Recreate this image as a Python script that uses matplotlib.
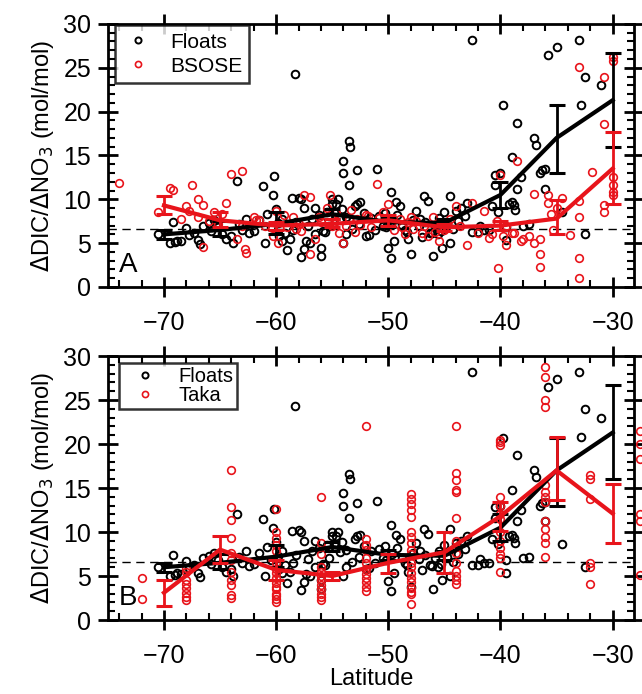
import matplotlib.pyplot as plt
from matplotlib.ticker import MultipleLocator

plt.rcParams['font.family'] = ['Liberation Sans', 'DejaVu Sans']

# Float observations (latitude, ratio)
float_lat = [-70.5, -69.5, -69.0, -68.5, -69.2, -68.0, -67.8, -67.0, -66.8, -66.5, -66.0, -65.5,
             -64.5, -64.0, -63.8, -63.0, -62.7, -63.5, -62.0, -64.8, -65.2, -63.3,
             -61.2, -60.2, -60.3, -60.8, -61.0, -60.0, -59.5, -59.0, -58.8, -59.5, -58.6, -58.0,
             -57.8, -58.3, -57.8, -57.5, -57.0, -57.5, -56.5, -56.5, -56.0, -56.0, -55.5, -55.0,
             -55.0, -54.7, -54.5, -54.0, -54.0, -53.5, -53.4, -53.5, -53.0, -52.8, -52.5, -52.8,
             -52.0, -54.0, -53.8, -51.0, -50.0, -49.8, -49.5, -49.8, -49.3, -49.0, -48.5, -48.0,
             -47.5, -47.0, -46.8, -46.5, -46.0, -45.5, -45.2, -45.0, -44.5, -44.5, -44.0, -43.5,
             -43.0, -42.5, -42.5, -41.5, -41.0, -40.5, -40.5, -40.0, -39.8, -39.5, -39.5, -39.0,
             -39.0, -38.8, -38.5, -38.5, -38.2, -38.0, -37.5, -37.0, -36.8, -36.5, -36.3, -36.0,
             -35.8, -35.0, -33.0, -32.8, -32.5, -32.5, -31.0, -34.5, -36.0,
             -61.5, -60.5, -59.8, -59.2, -58.5, -58.2, -57.2, -56.8, -56.2, -55.8, -55.3, -54.8,
             -54.3, -53.8, -53.2, -52.6, -52.2, -51.5, -51.2, -50.8, -50.5, -50.2, -49.7, -49.2,
             -48.8, -48.3, -47.8, -47.3, -46.7, -46.3, -45.8, -45.3, -44.8, -44.2, -43.8, -43.2,
             -42.0, -41.8, -40.8, -40.2, -39.2, -38.7, -59.7, -57.3, -55.6, -54.1, -51.7, -50.3,
             -48.2, -47.2, -46.1, -45.6, -62.4, -65.8, -67.3, -68.8]
float_val = [6.0, 5.0, 5.1, 5.2, 7.4, 6.7, 5.9, 5.4, 4.9, 7.0, 7.3, 7.6,
             5.5, 5.8, 5.0, 6.5, 7.8, 12.1, 6.4, 6.0, 6.8, 7.2,
             11.5, 12.6, 10.5, 8.3, 5.0, 8.9, 7.8, 4.2, 5.5, 5.3, 10.1, 10.2,
             10.0, 24.3, 3.4, 4.3, 5.0, 9.0, 9.0, 6.0, 3.5, 4.5, 8.5, 9.5,
             10.0, 9.5, 10.0, 14.4, 13.0, 16.6, 16.0, 11.6, 9.2, 13.3, 9.7, 9.5,
             5.8, 5.0, 6.0, 13.5, 4.4, 10.8, 5.3, 3.3, 9.7, 9.2, 6.5, 3.8,
             8.7, 5.7, 10.4, 9.8, 3.5, 7.9, 4.5, 8.5, 10.4, 5.0, 8.7, 9.0,
             9.6, 28.2, 6.3, 6.5, 6.5, 11.6, 12.8, 13.0, 20.7, 6.8, 5.4, 14.8,
             9.7, 9.3, 11.2, 18.7, 12.5, 7.0, 7.2, 17.0, 16.2, 13.0, 13.3, 11.2,
             26.5, 27.4, 28.2, 20.8, 24.0, 6.0, 23.0, 8.6, 13.4,
             7.6, 6.8, 7.3, 6.2, 6.5, 7.4, 6.9, 7.8, 8.2, 6.4, 7.0, 8.6,
             7.7, 8.0, 6.6, 7.2, 8.4, 7.9, 6.5, 8.1, 7.0, 6.8, 7.5, 8.2,
             7.1, 6.3, 7.6, 6.9, 7.4, 6.2, 7.0, 6.4, 7.2, 6.6, 7.5, 8.1,
             6.3, 6.9, 9.2, 8.6, 9.5, 8.8, 5.8, 5.2, 6.3, 8.9, 5.9, 8.4,
             5.5, 7.8, 6.1, 6.0, 6.1, 6.4, 6.2, 5.3]

# BSOSE model (panel A)
bsose_lat = [-74.0, -70.5, -69.5, -69.2, -68.5, -68.0, -67.8, -67.5, -67.0, -67.0, -66.5, -66.5,
             -66.0, -65.5, -64.5, -64.0, -63.5, -63.0, -62.8, -62.7, -63.0, -62.0, -61.0, -60.0,
             -60.3, -59.8, -59.0, -58.5, -58.0, -57.5, -57.0, -57.0, -56.5, -55.5, -55.2, -54.7,
             -54.0, -53.5, -53.0, -52.0, -51.0, -50.5, -50.0, -49.5, -49.0, -48.5, -48.0, -47.5,
             -47.0, -46.5, -46.0, -45.5, -45.0, -44.5, -44.0, -43.0, -42.5, -41.5, -41.0, -40.3,
             -40.2, -40.0, -39.5, -39.5, -39.0, -38.5, -38.2, -38.0, -37.5, -37.0, -37.0, -36.5,
             -36.5, -36.5, -35.8, -35.5, -35.8, -35.0, -35.3, -34.5, -33.8, -33.0, -33.0, -33.0,
             -33.0, -33.0, -31.8, -30.8, -30.8, -30.8, -30.8, -30.0, -30.0, -30.0, -30.0, -30.0,
             -30.0, -61.5, -59.3, -58.2, -56.0, -55.0, -54.4, -53.3, -52.5, -51.5, -50.8, -49.8,
             -48.8, -48.2, -47.8, -46.8, -45.8, -44.8, -43.6, -42.0, -40.8, -39.8, -38.8, -64.8,
             -65.2, -61.8, -57.8, -56.2, -54.8, -53.8, -52.8, -51.8]
bsose_val = [11.9, 8.6, 11.3, 11.1, 7.8, 9.2, 8.7, 11.6, 10.0, 8.0, 9.4, 4.6,
             7.5, 8.6, 9.6, 12.9, 5.5, 13.2, 4.3, 3.9, 7.0, 8.0, 7.0, 8.7,
             5.8, 5.0, 6.8, 8.0, 7.2, 10.5, 10.3, 3.8, 5.5, 9.0, 10.5, 8.4,
             5.0, 7.8, 6.3, 8.2, 11.8, 8.6, 9.5, 6.5, 7.8, 6.0, 8.0, 7.5,
             6.2, 5.8, 8.0, 5.2, 6.5, 7.8, 9.2, 4.8, 9.6, 8.7, 5.6, 7.5,
             2.2, 12.8, 4.8, 7.0, 6.2, 14.4, 5.2, 5.5, 5.8, 5.0, 10.6, 3.8,
             2.3, 5.5, 9.6, 8.3, 10.5, 9.0, 6.5, 10.2, 5.9, 25.1, 9.8, 8.0,
             3.3, 1.0, 13.1, 24.0, 18.6, 9.3, 8.5, 25.8, 26.2, 12.5, 11.6, 10.8,
             10.5, 7.6, 8.2, 6.6, 7.4, 7.0, 6.2, 8.8, 7.1, 6.8, 7.9, 7.2,
             6.8, 7.4, 6.6, 7.0, 6.3, 7.2, 6.9, 6.2, 6.0, 5.8, 6.1, 8.3,
             7.2, 7.6, 6.4, 8.0, 7.3, 6.9, 7.7, 8.1]

# Takahashi climatology (panel B)
taka_lat = ([-72.0] * 2 + [-68.0] * 8 + [-64.0] * 11 + [-60.0] * 17 + [-56.0] * 12 + [-52.0] * 12
            + [-48.0] * 19 + [-44.0] * 14 + [-40.0] * 13 + [-36.0] * 13 + [-32.0] * 6 + [-27.6] * 6)
taka_val = [4.8, 2.4,
            5.5, 4.6, 4.1, 3.6, 3.1, 2.6, 2.3, 5.9,
            17.1, 12.8, 11.4, 9.3, 7.6, 6.8, 5.5, 4.5, 4.0, 2.8, 2.5,
            12.6, 10.0, 9.3, 8.5, 7.8, 7.0, 6.5, 5.8, 5.3, 4.8, 4.2, 3.8, 3.5, 3.0, 2.7, 2.4, 2.1,
            14.0, 8.8, 7.5, 6.0, 5.5, 5.0, 4.5, 4.0, 3.5, 3.0, 2.6, 2.3,
            22.1, 9.2, 8.5, 8.0, 7.0, 6.5, 5.8, 5.2, 4.8, 4.3, 3.8, 3.3,
            14.3, 13.8, 13.2, 12.5, 11.7, 10.0, 9.4, 8.8, 8.0, 7.5, 6.5, 6.0, 5.4, 4.8, 4.3, 3.6,
            3.2, 2.9, 1.8,
            22.0, 16.7, 15.9, 14.8, 14.6, 11.6, 9.0, 8.3, 7.6, 6.5, 5.6, 5.0, 4.5, 4.1,
            20.5, 20.2, 19.9, 14.0, 13.0, 12.0, 11.5, 10.0, 9.0, 8.2, 7.5, 7.0, 5.5,
            28.8, 27.6, 25.0, 24.2, 15.3, 14.6, 14.0, 13.4, 11.2, 10.3, 9.4, 8.7, 7.2,
            16.5, 16.0, 13.8, 6.5, 6.0, 4.1,
            21.5, 20.0, 18.3, 12.0, 11.3, 5.1]

# Binned means with error ranges
bin_lat = [-70, -65, -60, -55, -50, -45, -40, -35, -30]
float_mean = [6.0, 6.5, 7.2, 8.3, 7.4, 7.3, 10.5, 17.0, 21.3]
float_lo = [5.5, 5.8, 6.0, 7.8, 6.8, 6.8, 9.0, 13.0, 16.0]
float_hi = [6.5, 7.5, 8.5, 8.9, 8.0, 7.8, 12.0, 20.7, 26.7]
bsose_mean = [9.3, 7.6, 7.0, 7.2, 7.6, 6.8, 7.0, 7.8, 13.5]
bsose_lo = [8.3, 6.8, 6.5, 6.8, 7.0, 6.4, 6.5, 6.0, 9.5]
bsose_hi = [10.4, 8.6, 7.4, 7.8, 8.2, 7.2, 7.5, 9.9, 17.7]
taka_mean = [3.1, 8.0, 5.7, 5.0, 6.5, 7.7, 11.8, 17.0, 12.1]
taka_lo = [1.6, 6.5, 4.5, 4.5, 5.3, 5.4, 10.1, 13.6, 8.7]
taka_hi = [4.6, 9.6, 6.8, 5.5, 7.5, 10.0, 13.4, 20.8, 15.5]

ref_ratio = 6.6

red = '#e8141b'


def draw_panel(ax, lat2, val2, mean2, lo2, hi2, name2, letter, leg_opts):
    ax.axhline(ref_ratio, color='k', ls=(0, (6, 4)), lw=1, zorder=1)
    ax.plot(float_lat, float_val, 'o', mfc='none', mec='k', ms=5.5, mew=1.4,
            ls='none', label='Floats', zorder=2)
    ax.plot(lat2, val2, 'o', mfc='none', mec=red, ms=5.5, mew=1.2, ls='none',
            label=name2, zorder=2, clip_on=False)
    ax.errorbar(bin_lat, float_mean,
                yerr=[[m - l for m, l in zip(float_mean, float_lo)],
                      [h - m for m, h in zip(float_mean, float_hi)]],
                color='k', lw=3, elinewidth=2, capsize=6, capthick=2.2, zorder=3)
    ax.errorbar(bin_lat, mean2,
                yerr=[[m - l for m, l in zip(mean2, lo2)],
                      [h - m for m, h in zip(mean2, hi2)]],
                color=red, lw=3, elinewidth=2, capsize=6, capthick=2.2, zorder=4)
    ax.set_xlim(-75, -28.1)
    ax.set_ylim(0, 30)
    ax.xaxis.set_major_locator(MultipleLocator(10))
    ax.xaxis.set_minor_locator(MultipleLocator(2))
    ax.yaxis.set_major_locator(MultipleLocator(5))
    ax.yaxis.set_minor_locator(MultipleLocator(1))
    ax.tick_params(which='major', direction='inout', length=14, width=2,
                   top=True, right=True, labelsize=18, pad=5)
    ax.tick_params(which='minor', direction='in', length=5, width=1.5,
                   top=True, right=True)
    ax.tick_params(axis='x', which='major', pad=10)
    for s in ax.spines.values():
        s.set_linewidth(2)
    ax.set_ylabel(r'$\Delta$DIC/$\Delta$NO$_3$ (mol/mol)', fontsize=17, labelpad=5)
    ax.text(-74.0, 1.7, letter, fontsize=20)
    leg = ax.legend(loc='upper left', frameon=True, fancybox=False, edgecolor='k',
                    borderaxespad=0, markerscale=0.8, **leg_opts)
    leg.get_frame().set_linewidth(1.8)


fig = plt.figure(figsize=(6.42, 6.94), dpi=100)
axA = fig.add_axes([0.168, 0.5865, 0.8195, 0.379])
axB = fig.add_axes([0.168, 0.1066, 0.8195, 0.3804])

draw_panel(axA, bsose_lat, bsose_val, bsose_mean, bsose_lo, bsose_hi, 'BSOSE', 'A',
           dict(fontsize=15, bbox_to_anchor=(0.013, 0.995), handlelength=1.5,
                handletextpad=0.8, labelspacing=0.25, borderpad=0.35))
draw_panel(axB, taka_lat, taka_val, taka_mean, taka_lo, taka_hi, 'Taka', 'B',
           dict(fontsize=14.5, bbox_to_anchor=(0.021, 0.973), handlelength=2.2,
                handletextpad=0.55, labelspacing=0.0, borderpad=0.2))
axB.set_xlabel('Latitude', fontsize=17, labelpad=0)

fig.savefig('out.png', dpi=100)
